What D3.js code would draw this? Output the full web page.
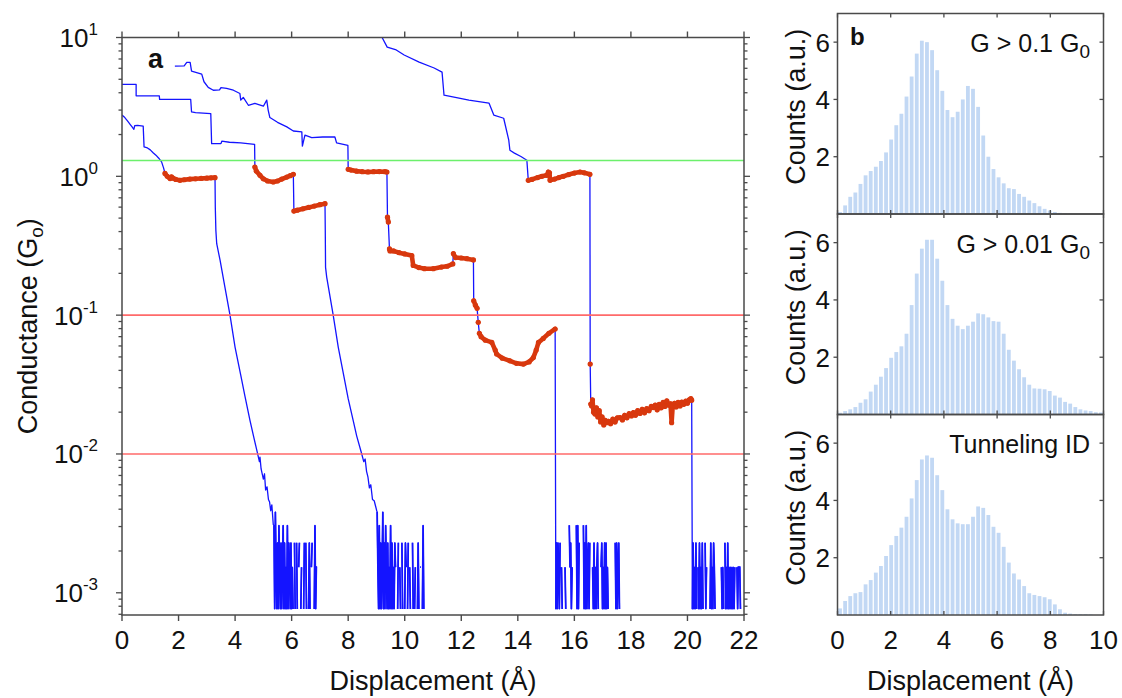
<!DOCTYPE html>
<html><head><meta charset="utf-8">
<script src="https://cdn.jsdelivr.net/npm/d3@7"></script>
<style>body{margin:0;background:#fff}svg{display:block}text{font-family:"Liberation Sans",Arial,Helvetica,sans-serif;fill:#111}</style>
</head><body>
<svg id="c" width="1122" height="698"></svg>
<script>
// ---------------- DATA ----------------
const xTicksMain = [0,2,4,6,8,10,12,14,16,18,20,22];
const yDecades = [-3,-2,-1,0,1];
const refLines = [{g:1.3,color:"#6cf06c"},{g:0.1,color:"#ff6a6a"},{g:0.01,color:"#ff6a6a"}];

// blue trace parts [displacement Å, conductance G0]
const t1Upper = [[0,2.76],[0.1,2.65],[0.2,2.5],[0.3,2.35],[0.35,2.28],[0.42,2.18],[0.45,2.32],[0.55,2.33],[0.75,2.3],[0.78,1.63],[0.9,1.6],[1.0,1.55],[1.1,1.48],[1.2,1.42],[1.3,1.35],[1.4,1.27],[1.47,1.15]];
const t1Decay = [[3.3,0.6],[3.32,0.408],[3.35,0.327],[3.47,0.248],[3.64,0.159],[3.82,0.1],[4.0,0.0586],[4.2,0.037],[4.35,0.026],[4.53,0.0173],[4.65,0.0135],[4.8,0.00997],[4.86,0.0088],[4.88,0.0095],[4.92,0.0078],[5.0,0.0066],[5.04,0.0072],[5.08,0.0055],[5.13,0.0058],[5.18,0.0047],[5.22,0.0045],[5.26,0.0039],[5.3,0.0043],[5.35,0.0031]];
const t2Upper = [[0,4.59],[0.5,4.59],[0.5,3.8],[1.32,3.8],[1.33,3.58],[2.43,3.58],[2.46,2.91],[2.6,2.88],[3.14,2.83],[3.17,1.72],[3.5,1.72],[3.53,1.79],[3.8,1.76],[4.2,1.74],[4.69,1.7]];
const t2Decay = [[7.19,0.4],[7.2,0.221],[7.24,0.188],[7.47,0.1],[7.65,0.0586],[7.85,0.036],[8.0,0.025],[8.18,0.0173],[8.3,0.0135],[8.48,0.01],[8.55,0.0088],[8.6,0.0092],[8.65,0.0075],[8.7,0.0068],[8.75,0.0057],[8.8,0.006],[8.86,0.0047],[8.92,0.0046],[8.97,0.0042],[9.01,0.0039]];
const t3Upper = [[1.87,6.23],[2.2,6.25],[2.29,6.62],[2.41,6.62],[2.46,5.73],[2.82,5.45],[2.9,4.8],[3.05,4.37],[3.23,4.17],[3.45,4.2],[3.5,4.35],[3.7,4.3],[3.94,4.17],[4.17,3.95],[4.2,3.54],[4.29,3.7],[4.47,3.25],[4.7,3.35],[5.0,3.2],[5.12,3.54],[5.17,3.0],[5.23,2.65],[5.5,2.45],[5.83,2.27],[6.06,2.12],[6.36,2.09],[6.38,1.65],[6.47,1.98],[6.71,1.9],[7.1,1.92],[7.53,1.92],[7.59,1.74],[7.99,1.67]];
const t4Upper = [[9.1,11],[9.2,10.0],[9.38,8.53],[9.7,8.13],[9.98,7.48],[10.51,6.65],[11.04,6.03],[11.32,5.63],[11.39,3.84],[11.92,3.66],[12.27,3.54],[12.98,3.37],[13.15,2.76],[13.5,2.62],[13.68,1.82],[13.72,1.54],[13.88,1.47],[14.11,1.39],[14.32,1.305]];

// red (molecular) segments
const red1 = [[1.52,1.05],[1.6,1.0],[1.7,0.963],[1.75,0.99],[1.8,0.97],[1.9,0.95],[2.05,0.936],[2.2,0.945],[2.4,0.955],[2.6,0.96],[2.8,0.965],[3.0,0.97],[3.15,0.975],[3.29,0.978]];
const red2 = [[4.7,1.167],[4.75,1.09],[4.88,1.017],[5.0,0.96],[5.15,0.925],[5.35,0.91],[5.5,0.925],[5.65,0.955],[5.83,0.988],[5.95,1.01],[6.06,1.034]];
const red3 = [[6.08,0.562],[6.2,0.57],[6.4,0.583],[6.6,0.597],[6.8,0.61],[7.0,0.625],[7.18,0.635]];
const red4 = [[8.0,1.123],[8.1,1.11],[8.3,1.09],[8.5,1.08],[8.7,1.075],[8.9,1.08],[9.1,1.082],[9.3,1.08],[9.37,1.074]];
const red5 = [[9.39,0.508],[9.42,0.468]];
const red6 = [[9.46,0.30],[9.48,0.29],[9.6,0.29],[9.8,0.282],[10.0,0.276],[10.25,0.269],[10.3,0.228],[10.5,0.22],[10.7,0.216],[11.01,0.216],[11.3,0.222],[11.5,0.225],[11.7,0.234]];
const red7 = [[11.72,0.277],[11.8,0.26],[12.0,0.258],[12.2,0.255],[12.43,0.25]];
const red8 = [[12.44,0.127],[12.5,0.118],[12.56,0.112]];
const red9 = [[12.6,0.0887]];
const red10 = [[12.64,0.074],[12.7,0.07],[12.85,0.066],[13.08,0.0636],[13.2,0.056],[13.25,0.0525],[13.45,0.049],[13.72,0.0469],[13.95,0.045],[14.2,0.0444],[14.4,0.046],[14.55,0.0495],[14.65,0.056],[14.73,0.0636],[14.9,0.068],[15.1,0.074],[15.32,0.0795]];
const red11 = [[14.37,0.936],[14.5,0.95],[14.7,0.98],[14.85,1.0],[15.02,1.017],[15.08,1.074],[15.12,1.06],[15.14,0.936],[15.3,0.955],[15.45,0.98],[15.61,1.0],[15.8,1.03],[16.0,1.055],[16.2,1.074],[16.35,1.06],[16.55,1.034]];
const red12 = [[16.56,0.0444]];
const red13 = [[16.58,0.0229],[16.61,0.0222],[16.64,0.0245],[16.68,0.02],[16.73,0.0194],[16.78,0.0215],[16.83,0.0185],[16.88,0.0205],[16.93,0.017],[16.98,0.0185],[17.04,0.0162],[17.09,0.0175],[17.14,0.0168],[17.2,0.0172],[17.28,0.0165],[17.36,0.0178],[17.44,0.017],[17.52,0.0182],[17.62,0.0183],[17.7,0.0176],[17.78,0.019],[17.86,0.0182],[17.94,0.0195],[18.02,0.0188],[18.09,0.0199],[18.16,0.019],[18.24,0.0205],[18.32,0.0196],[18.4,0.021],[18.48,0.0198],[18.56,0.0212],[18.64,0.0205],[18.72,0.022],[18.79,0.0216],[18.86,0.0225],[18.93,0.0208],[19.0,0.0228],[19.07,0.0215],[19.14,0.0235],[19.2,0.022],[19.27,0.0241],[19.33,0.0225],[19.4,0.023],[19.44,0.0168],[19.48,0.0225],[19.54,0.0232],[19.6,0.0218],[19.67,0.0235],[19.74,0.0222],[19.8,0.0236],[19.87,0.0228],[19.94,0.024],[20.0,0.0232],[20.06,0.0245],[20.12,0.025],[20.15,0.0244]];

// tunnelling noise floor: quantised levels (multiples of noiseUnit), 0 = no signal
const noiseUnit = 7.65e-4;
const noiseStep = 0.025;
const noise1Start = 5.375;
const noise1Levels = [4,1,5,2,1,3,1,4,2,1,3,1,2,4,1,3,1,2,1,4,1,3,2,1,3,1,2,1,0,3,1,0,3,1,0,2,3,0,1,2,0,0,1,3,0,3,1,0,0,1,3,1,0,2,3,0,0,1,4,1,2,2,0,0];
const noise2Start = 9.025;
const noise2Levels = [5,2,1,4,1,3,1,2,5,1,3,1,4,2,1,3,1,2,1,4,1,3,1,2,1,3,2,0,0,1,3,0,2,1,0,3,1,0,0,1,3,2,0,1,3,0,2,1,0,0,3,1,0,1,2,0,0,1,3,1,0,2,2,0,1,4,1,0];
const noise3Start = 15.345;
const noise3Levels = [1,3,1,3,2,1,3,0,2,1,0,0,0,2,1,0,0,0,0,4,2,3,1,2,0,0,0,0,0,4,1,4,1,3,0,0,0,0,0,4,1,3,1,4,1,2,3,1,3,0,0,0,2,1,3,1,2,1,2,3,1,0,0,0,2,3,1,2,1,3,1,3,1,2,1,0,0,0,0,0,0,0,0,0,3,1,3,1,2,3,1];
const noise4Start = 20.175;
const noise4Levels = [1,3,1,2,1,3,1,0,2,1,3,1,2,1,3,1,0,0,3,1,2,0,0,0,0,1,3,1,2,1,3,2,1,0,0,0,0,0,0,0,0,2,1,2,1,0,3,1,2,1,3,1,2,1,2,1,2,1,2,1,2,0,0,2,1,2,2,2,1,0];

// histograms (panel b), bins over 0-10 Å
const histBins = 52;
const histTicksX = [0,2,4,6,8,10];
const histTicksY = [2,4,6];
const hist1Counts = [0.07,0.3,0.6,0.75,1.05,1.35,1.5,1.65,1.85,2.15,2.6,3.1,3.5,4.1,4.8,5.6,6.05,6.0,5.72,5.02,4.3,3.63,3.38,3.57,4.0,4.47,4.37,3.74,2.74,2.0,1.57,1.28,1.07,0.9,0.87,0.7,0.6,0.47,0.38,0.27,0.18,0.12,0.07,0.04,0.03,0.02,0.01,0.01,0,0,0,0];
const hist2Counts = [0.06,0.12,0.18,0.26,0.41,0.53,0.8,1.04,1.32,1.62,1.98,2.18,2.38,2.82,3.82,4.92,5.79,6.1,6.1,5.44,4.67,3.82,3.34,3.1,2.98,3.1,3.24,3.53,3.5,3.39,3.26,3.24,2.82,2.26,1.88,1.58,1.3,1.04,0.91,0.9,0.88,0.82,0.66,0.59,0.44,0.38,0.26,0.18,0.14,0.12,0.08,0.07];
const hist3Counts = [0.23,0.49,0.66,0.76,0.8,1.07,1.22,1.48,1.71,2.06,2.44,2.76,3.05,3.43,4.07,4.71,5.43,5.57,5.49,4.88,4.36,3.69,3.34,3.2,3.17,3.17,3.43,3.79,3.74,3.49,3.08,2.87,2.38,1.83,1.45,1.24,1.01,0.76,0.7,0.66,0.62,0.55,0.37,0.2,0.08,0.05,0.03,0.03,0.03,0.02,0,0];
const histLabels = [{main:"G > 0.1 G",sub:"0"},{main:"G > 0.01 G",sub:"0"},{main:"Tunneling ID",sub:""}];

// ---------------- DRAW ----------------
const svg = d3.select("#c");
const frameCol = "#4a4a4a";
const blue = "#1414ff", redCol = "#d8380e";

// main panel scales
const mx = d3.scaleLinear().domain([0,22]).range([122,744]);
const my = d3.scaleLog().domain([Math.pow(10,-3.16),10]).range([615,37.5]);
const [X0,X1] = mx.range(), [Y1,Y0] = my.range();

svg.append("defs").append("clipPath").attr("id","clipMain")
  .append("rect").attr("x",X0).attr("y",Y0).attr("width",X1-X0).attr("height",Y1-Y0);

const plot = svg.append("g").attr("clip-path","url(#clipMain)");
const line = d3.line().defined(d=>d[1]>0).x(d=>mx(d[0])).y(d=>my(d[1]));
const noisePts = (start,levels)=>levels.map((n,i)=>[start+i*noiseStep, n*noiseUnit]);

const noiseSets = [noisePts(noise1Start,noise1Levels),noisePts(noise2Start,noise2Levels),noisePts(noise3Start,noise3Levels),noisePts(noise4Start,noise4Levels)];
const traces = [
  [...t1Upper, ...red1, ...t1Decay, ...noiseSets[0]],
  [...t2Upper, ...red2, ...red3, ...t2Decay, ...noiseSets[1]],
  [...t3Upper, ...red4, ...red5, ...red6, ...red7, ...red8, ...red9, ...red10, ...noiseSets[2]],
  [...t4Upper, ...red11, ...red12, ...red13, ...noiseSets[3]]
];
plot.selectAll("path.trace").data(traces).join("path").attr("class","trace")
  .attr("d",line).attr("fill","none").attr("stroke",blue).attr("stroke-width",1.3).attr("stroke-linejoin","round");
plot.selectAll("path.noise").data(noiseSets).join("path").attr("class","noise")
  .attr("d",line).attr("fill","none").attr("stroke",blue).attr("stroke-width",1.7);

plot.selectAll("line.ref").data(refLines).join("line").attr("class","ref")
  .attr("x1",X0).attr("x2",X1).attr("y1",d=>my(d.g)).attr("y2",d=>my(d.g))
  .attr("stroke",d=>d.color).attr("stroke-width",1.6);

const redSegs = [red1,red2,red3,red4,red5,red6,red7,red8,red9,red10,red11,red12,red13];
const redLine = d3.line().x(d=>mx(d[0])).y(d=>my(d[1]));
plot.selectAll("path.red").data(redSegs).join("path").attr("class","red")
  .attr("d",redLine).attr("fill","none").attr("stroke",redCol).attr("stroke-width",4.6)
  .attr("stroke-linecap","round").attr("stroke-linejoin","round");
plot.selectAll("circle.red").data(redSegs.flat()).join("circle").attr("class","red")
  .attr("cx",d=>mx(d[0])).attr("cy",d=>my(d[1])).attr("r",2.6).attr("fill",redCol);

// frame and ticks
const ax = svg.append("g");
ax.append("rect").attr("x",X0).attr("y",Y0).attr("width",X1-X0).attr("height",Y1-Y0)
  .attr("fill","none").attr("stroke",frameCol).attr("stroke-width",1.5);
xTicksMain.forEach(v=>{
  ax.append("line").attr("x1",mx(v)).attr("x2",mx(v)).attr("y1",Y1).attr("y2",Y1+6).attr("stroke",frameCol).attr("stroke-width",1.4);
  ax.append("line").attr("x1",mx(v)).attr("x2",mx(v)).attr("y1",Y0).attr("y2",Y0-6).attr("stroke",frameCol).attr("stroke-width",1.4);
  ax.append("text").attr("x",mx(v)).attr("y",649).attr("text-anchor","middle").attr("font-size",26).text(v);
});
const dom = my.domain();
for (let d=-4; d<=1; d++){
  for (let m=1; m<=9; m++){
    const v = m*Math.pow(10,d);
    if (v < dom[0]*0.999 || v > dom[1]*1.001) continue;
    const len = m===1?6:3.5;
    ax.append("line").attr("x1",X0).attr("x2",X0-len).attr("y1",my(v)).attr("y2",my(v)).attr("stroke",frameCol).attr("stroke-width",1.3);
    ax.append("line").attr("x1",X1).attr("x2",X1+len).attr("y1",my(v)).attr("y2",my(v)).attr("stroke",frameCol).attr("stroke-width",1.3);
  }
}
yDecades.forEach(e=>{
  const t = ax.append("text").attr("x",98).attr("y",my(Math.pow(10,e))+9.5).attr("text-anchor","end").attr("font-size",26);
  t.append("tspan").text("10");
  t.append("tspan").attr("font-size",17).attr("dy",-12).text(e<0?"-"+(-e):String(e));
});
ax.append("text").attr("x",(X0+X1)/2).attr("y",690).attr("text-anchor","middle").attr("font-size",27).text("Displacement (Å)");
const yl = ax.append("text").attr("transform",`translate(37,${(Y0+Y1)/2}) rotate(-90)`).attr("text-anchor","middle").attr("font-size",27);
yl.append("tspan").text("Conductance (G");
yl.append("tspan").attr("font-size",19).attr("dy",6).text("o");
yl.append("tspan").attr("dy",-6).text(")");
ax.append("text").attr("x",148).attr("y",68).attr("font-size",27).attr("font-weight","bold").text("a");

// histogram panels
const hx = d3.scaleLinear().domain([0,10]).range([837.5,1103.5]);
const binW = 10/histBins;
const panelH = 200.5, panelTop0 = 13.5;
const hists = [hist1Counts,hist2Counts,hist3Counts];
hists.forEach((counts,i)=>{
  const top = panelTop0 + i*panelH, bot = top+panelH;
  const hy = d3.scaleLinear().domain([0,7]).range([bot,top]);
  const g = svg.append("g");
  g.selectAll("rect.bar").data(counts).join("rect").attr("class","bar")
    .attr("x",(d,j)=>hx(j*binW)+0.6).attr("width",hx(binW)-hx(0)-1.3)
    .attr("y",d=>hy(d)).attr("height",d=>hy(0)-hy(d)).attr("fill","#c2d8f4");
  g.append("rect").attr("x",hx(0)).attr("y",top).attr("width",hx(10)-hx(0)).attr("height",panelH)
    .attr("fill","none").attr("stroke",frameCol).attr("stroke-width",1.5);
  histTicksY.forEach(v=>{
    g.append("line").attr("x1",hx(0)).attr("x2",hx(0)-4).attr("y1",hy(v)).attr("y2",hy(v)).attr("stroke",frameCol).attr("stroke-width",1.3);
    g.append("line").attr("x1",hx(10)).attr("x2",hx(10)-4).attr("y1",hy(v)).attr("y2",hy(v)).attr("stroke",frameCol).attr("stroke-width",1.3);
    g.append("text").attr("x",830).attr("y",hy(v)+9.5).attr("text-anchor","end").attr("font-size",26).text(v);
  });
  histTicksX.forEach(v=>{
    g.append("line").attr("x1",hx(v)).attr("x2",hx(v)).attr("y1",bot).attr("y2",bot-4).attr("stroke",frameCol).attr("stroke-width",1.3);
    g.append("line").attr("x1",hx(v)).attr("x2",hx(v)).attr("y1",top).attr("y2",top+4).attr("stroke",frameCol).attr("stroke-width",1.3);
  });
  g.append("text").attr("transform",`translate(805,${(top+bot)/2-7}) rotate(-90)`).attr("text-anchor","middle").attr("font-size",27).text("Counts (a.u.)");
  const lab = g.append("text").attr("x",1090).attr("y",top+38.5).attr("text-anchor","end").attr("font-size",25);
  lab.append("tspan").text(histLabels[i].main);
  if (histLabels[i].sub) lab.append("tspan").attr("font-size",19).attr("dy",6).text(histLabels[i].sub);
  if (i===2){
    histTicksX.forEach(v=>{
      g.append("text").attr("x",hx(v)).attr("y",649).attr("text-anchor","middle").attr("font-size",26).text(v);
    });
    g.append("text").attr("x",(hx(0)+hx(10))/2).attr("y",690).attr("text-anchor","middle").attr("font-size",27).text("Displacement (Å)");
  }
});
svg.append("text").attr("x",850).attr("y",45).attr("font-size",24).attr("font-weight","bold").text("b");
</script>
</body></html>
